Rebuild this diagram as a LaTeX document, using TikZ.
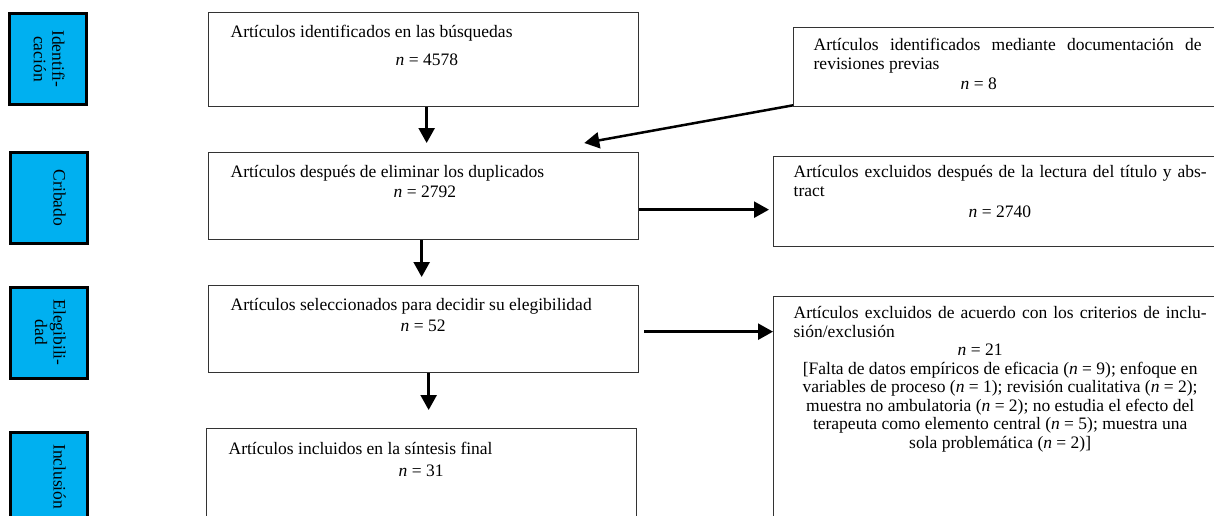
\documentclass[tikz,border=0pt]{standalone}
\usepackage{fontspec}
\setmainfont{Liberation Serif}
\usetikzlibrary{arrows.meta}
\definecolor{fasecyan}{HTML}{00B0F0}
\newcommand{\cajafont}{\fontsize{17.5}{18.5}\selectfont}
\tikzset{
  fase/.style={draw=black, line width=3pt, fill=fasecyan, minimum width=77pt, minimum height=91pt, inner sep=0pt},
  fasetxt/.style={rotate=-90, anchor=north, align=center, inner sep=0pt, font=\cajafont},
  caja/.style={draw=black!80, line width=1.3pt, anchor=north west, align=justify, font=\cajafont, text height=13pt},
  flecha/.style={-{Triangle[length=15pt,width=16pt]}, line width=2.5pt}
}
\begin{document}
\begin{tikzpicture}[x=1pt, y=-1pt]
  \useasboundingbox (0,0) rectangle (1214,515);
  \clip (0,0) rectangle (1214,515);
  \node[fase] (ident) at (48,59) {};
  \node[fase] (crib) at (49,198) {};
  \node[fase] (eleg) at (49,332.5) {};
  \node[fase] (inclu) at (49,478) {};
  \node[fasetxt] (identtxt) at ([xshift=-23pt]ident.east) {Identifi-\\cación};
  \node[fasetxt] (cribtxt) at ([xshift=-23pt]crib.east) {Cribado};
  \node[fasetxt] (elegtxt) at ([xshift=-23pt]eleg.east) {Elegibili-\\dad};
  \node[fasetxt, anchor=north west] (inclutxt) at ([xshift=-23pt,yshift=-13pt]inclu.north east) {Inclusión};
  \node[caja, text width=386pt, inner xsep=22pt, inner ysep=12pt, text depth=57pt] (busq) at (208,12)
    {Artículos identificados en las búsquedas\par\vspace{9pt}\hspace*{165pt}\textit{n} = 4578};
  \node[caja, text width=388pt, inner xsep=20pt, inner ysep=10pt, text depth=46pt] (prev) at (793,27)
    {Artículos identificados mediante documentación de\linebreak revisiones previas\par\vspace{2pt}\hspace*{147pt}\textit{n} = 8};
  \node[caja, text width=386pt, inner xsep=22pt, inner ysep=12pt, text depth=50pt] (dupl) at (208,152)
    {Artículos después de eliminar los duplicados\par\vspace{1pt}\hspace*{163pt}\textit{n} = 2792};
  \node[caja, text width=413pt, inner xsep=20pt, inner ysep=8pt, text depth=61pt] (exclt) at (773,156)
    {Artículos excluidos después de la lectura del título y abs-\linebreak tract\par\vspace{3pt}\hspace*{175pt}\textit{n} = 2740};
  \node[caja, text width=386pt, inner xsep=22pt, inner ysep=12pt, text depth=50pt] (sel) at (208,285)
    {Artículos seleccionados para decidir su elegibilidad\par\vspace{2pt}\hspace*{170pt}\textit{n} = 52};
  \node[caja, text width=413pt, inner xsep=20pt, inner ysep=9pt, text depth=209pt] (exclc) at (773,296)
    {Artículos excluidos de acuerdo con los criterios de inclu-\linebreak sión/exclusión\par\hspace*{164pt}\textit{n} = 21\par
     {\centering [Falta de datos empíricos de eficacia (\textit{n} = 9); enfoque en\\
      variables de proceso (\textit{n} = 1); revisión cualitativa (\textit{n} = 2);\\
      muestra no ambulatoria (\textit{n} = 2); no estudia el efecto del\\
      terapeuta como elemento central (\textit{n} = 5); muestra una\\
      sola problemática (\textit{n} = 2)]\par}};
  \node[caja, text width=386pt, inner xsep=22pt, inner ysep=13pt, text depth=71pt] (incl) at (206,428)
    {Artículos incluidos en la síntesis final\par\vspace{3pt}\hspace*{170pt}\textit{n} = 31};
  \begin{scope}[flecha]
    \draw[shorten >=9pt] ([xshift=3pt]busq.south) -- ([xshift=3pt]busq.south |- dupl.north);
    \draw ([yshift=2pt]prev.south west) -- ([xshift=-55pt,yshift=9pt]dupl.north east);
    \draw[shorten >=4pt] ([yshift=-13.5pt]dupl.east) -- ([yshift=-13.5pt]dupl.east -| exclt.west);
    \draw[shorten >=8pt] ([xshift=-2pt]dupl.south) -- ([xshift=-2pt]dupl.south |- sel.north);
    \draw[shorten <=5pt] ([yshift=-2.5pt]sel.east) -- ([yshift=-2.5pt]sel.east -| exclc.west);
    \draw[shorten >=18pt] ([xshift=5pt]sel.south) -- ([xshift=5pt]sel.south |- incl.north);
  \end{scope}
\end{tikzpicture}
\end{document}
